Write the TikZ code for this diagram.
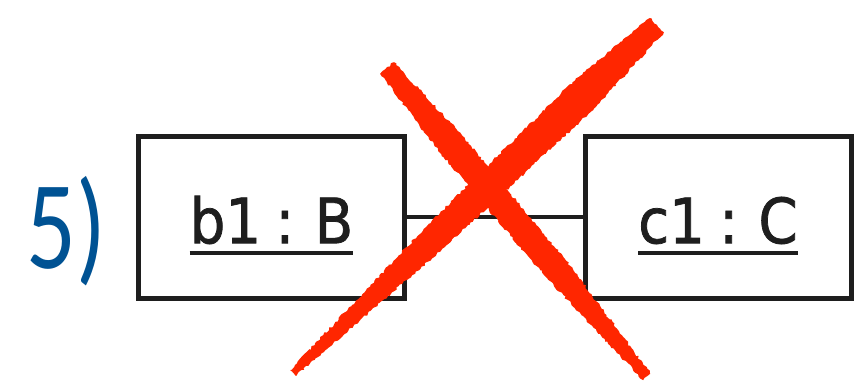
\documentclass[tikz,border=0pt]{standalone}
\usepackage{fontspec}
\usepackage{tikz}
\usetikzlibrary{positioning,decorations.pathmorphing}

\newfontfamily\objfont[FakeStretch=0.9, WordSpace=0.8, FakeBold=1.2]{DejaVu Sans}
\newfontfamily\numfont[FakeStretch=0.78]{Carlito}

\definecolor{numblue}{RGB}{0,82,147}
\definecolor{xred}{RGB}{255,38,0}
\definecolor{boxline}{RGB}{30,30,30}

% Objektname unterstrichen
\newcommand{\objname}[1]{\setbox0=\hbox{#1}\rlap{\rule[-12pt]{\wd0}{4pt}}\box0}

\begin{document}
\begin{tikzpicture}[x=1pt, y=1pt,
  obj node/.style={rectangle, draw=boxline, line width=5pt, minimum width=266pt, minimum height=162pt, text=boxline, text height=64pt, text depth=12pt, inner sep=0pt, font=\objfont\fontsize{62.5}{70}\selectfont},
  cross/.style={fill=xred, decorate, decoration={random steps, segment length=2.5pt, amplitude=1.2pt}}]
  \useasboundingbox (0,0) rectangle (859,383);

  \node[obj node] (b1) at (271.5,165.75) {\objname{b1 : B}};
  \node[obj node] (c1) [right=175.5pt of b1] {\objname{c1 : C}};
  \node[anchor=base west, inner sep=0pt, text=numblue, font=\numfont\fontsize{126}{130}\selectfont] (num) at (26,114) {5)};

  % Verbindung
  \draw[line width=3.5pt, boxline] (b1) -- (c1);

  % rotes Kreuz
  \fill[cross] (380.1,309.2) -- (393.9,320.8) -- (462.7,246.8) -- (565.9,122.5) -- (650.8,9.2)
    -- (643.2,2.8) -- (546.1,105.7) -- (441.3,228.7) -- cycle;
  \fill[cross] (663.9,350.8) -- (595.9,276.1) -- (448.3,139.1) -- (295.8,7.1)
    -- (290.2,12.9) -- (428.9,159.3) -- (572.5,300.7) -- (650.1,365.2) -- cycle;
\end{tikzpicture}
\end{document}
